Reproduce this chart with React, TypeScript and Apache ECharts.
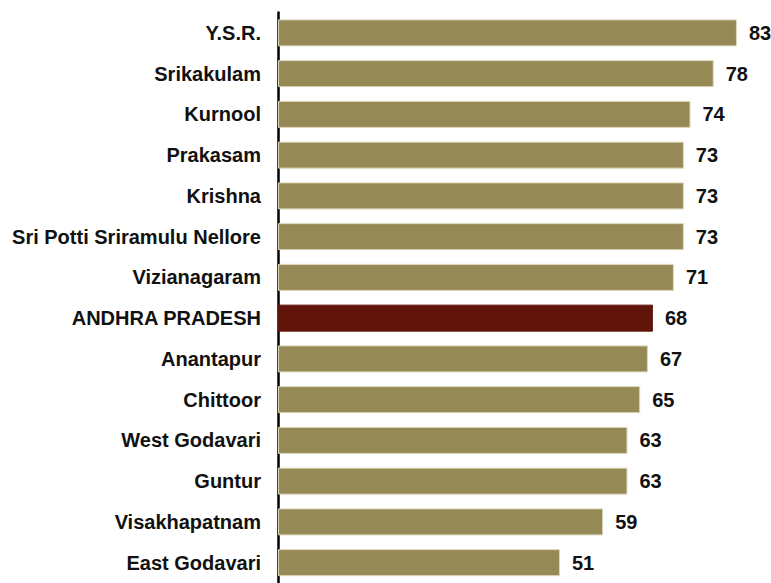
import React, { useEffect, useRef } from "react";
import * as echarts from "echarts";

const categories = [
  "Y.S.R.",
  "Srikakulam",
  "Kurnool",
  "Prakasam",
  "Krishna",
  "Sri Potti Sriramulu Nellore",
  "Vizianagaram",
  "ANDHRA PRADESH",
  "Anantapur",
  "Chittoor",
  "West Godavari",
  "Guntur",
  "Visakhapatnam",
  "East Godavari",
];
// bar lengths
const values = [83.0, 78.8, 74.6, 73.4, 73.4, 73.4, 71.6, 67.8, 66.9, 65.5, 63.2, 63.2, 58.8, 51.0];
// value labels as printed
const valueLabels = ["83", "78", "74", "73", "73", "73", "71", "68", "67", "65", "63", "63", "59", "51"];
const highlight = "ANDHRA PRADESH";

export default function App() {
  const ref = useRef<HTMLDivElement>(null);
  useEffect(() => {
    if (!ref.current) return;
    const chart = echarts.init(ref.current, null, { renderer: "svg" });
    const font = "'Liberation Sans', Arial, sans-serif";
    chart.setOption({
      animation: false,
      grid: { left: 278, right: 23, top: 12.5, bottom: -6.5, containLabel: false },
      xAxis: {
        type: "value",
        min: 0,
        max: 85,
        show: false,
      },
      yAxis: {
        type: "category",
        data: categories,
        inverse: true,
        axisLine: { show: true, lineStyle: { color: "#000", width: 2.5 } },
        axisTick: { show: false },
        axisLabel: {
          color: "#111",
          fontFamily: font,
          fontWeight: "bold",
          fontSize: 20,
          margin: 17,
        },
        splitLine: { show: false },
      },
      series: [
        {
          type: "bar",
          barWidth: 27,
          data: categories.map((c, i) => ({
            value: values[i],
            itemStyle: {
              color: c === highlight ? "#60140a" : "#958a55",
              borderColor: c === highlight ? "#60140a" : "#ddd7bb",
              borderWidth: 1,
            },
          })),
          label: {
            show: true,
            position: "right",
            distance: 12,
            color: "#111",
            fontFamily: font,
            fontWeight: "bold",
            fontSize: 20,
            formatter: (p: any) => valueLabels[p.dataIndex],
          },
        },
      ],
    });
    return () => chart.dispose();
  }, []);
  return (
    <div
      ref={ref}
      style={{ position: "fixed", left: 0, top: 0, width: 771, height: 583, background: "#fff" }}
    />
  );
}
